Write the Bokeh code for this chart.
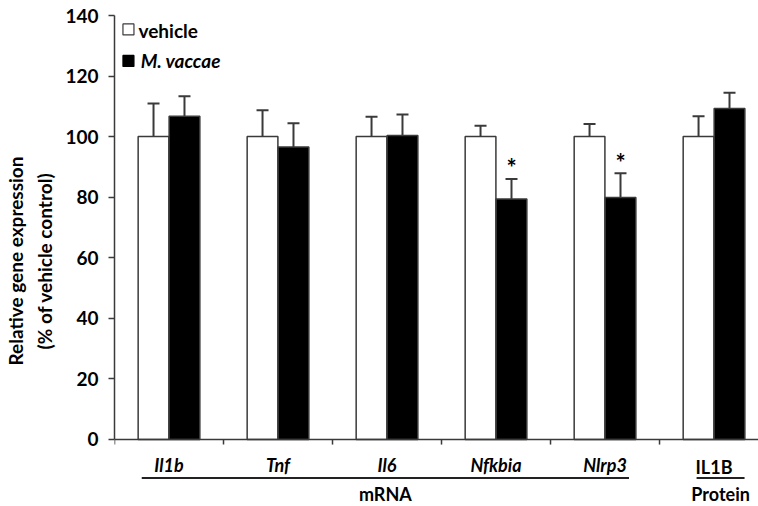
from bokeh.plotting import figure
from bokeh.models import Range1d, FixedTicker, ColumnDataSource
from bokeh.core.properties import value
from bokeh.embed import file_html
from bokeh.resources import INLINE

# ---------------- data ----------------
categories = ["Il1b", "Tnf", "Il6", "Nfkbia", "Nlrp3", "IL1B"]
cat_italic = [True, True, True, True, True, False]
vehicle = [100, 100, 100, 100, 100, 100]
vehicle_err = [10.9, 8.7, 6.6, 3.6, 4.2, 6.7]
vaccae = [106.7, 96.6, 100.4, 79.4, 79.9, 109.3]
vaccae_err = [6.6, 7.8, 6.9, 6.6, 8.0, 5.2]
significant = [False, False, False, True, True, False]
groups = ["mRNA", "Protein"]
group_members = [[0, 1, 2, 3, 4], [5]]
series_names = ["vehicle", "M. vaccae"]
y_ticks = [0, 20, 40, 60, 80, 100, 120, 140]

# ---------------- layout ----------------
FONT = "Lato"
n = len(categories)
bar_w = 0.282
off = 0.142
cap = 0.055
edge = "#3a3a3a"

p = figure(width=758, height=506, output_backend="svg", toolbar_location=None,
           x_axis_type=None, x_range=Range1d(0, 5.908), y_range=Range1d(-22.15, 140),
           min_border_left=114, min_border_right=0, min_border_top=15, min_border_bottom=0)
p.outline_line_color = None
p.grid.visible = False
p.background_fill_color = "white"

ya = p.yaxis[0]
ya.bounds = (0, 140)
ya.ticker = FixedTicker(ticks=y_ticks)
ya.minor_tick_line_color = None
ya.major_tick_in = 0
ya.major_tick_out = 6
ya.axis_line_width = 1.5
ya.axis_line_color = edge
ya.major_tick_line_width = 1.5
ya.major_tick_line_color = edge
ya.major_label_text_font = FONT
ya.major_label_text_font_style = "bold"
ya.major_label_text_font_size = "19px"
ya.major_label_text_color = "black"
ya.major_label_standoff = 10
ya.axis_label = "Relative gene expression\n(% of vehicle control)"
ya.axis_label_text_font = FONT
ya.axis_label_text_font_style = "bold"
ya.axis_label_text_font_size = "19px"
ya.axis_label_text_color = "black"
ya.axis_label_text_line_height = 1.3
ya.axis_label_standoff = 6

centers = [i + 0.5 for i in range(n)]
xv = [c - off for c in centers]
xm = [c + off for c in centers]

src = ColumnDataSource(dict(
    xv=xv, xm=xm, veh=vehicle, vac=vaccae,
    veh_top=[v + e for v, e in zip(vehicle, vehicle_err)],
    vac_top=[v + e for v, e in zip(vaccae, vaccae_err)],
    xv0=[x - cap for x in xv], xv1=[x + cap for x in xv],
    xm0=[x - cap for x in xm], xm1=[x + cap for x in xm],
))

# error bars (drawn first so bars cover the stems inside)
for xs, lo, hi, x0, x1 in (("xv", "veh", "veh_top", "xv0", "xv1"), ("xm", "vac", "vac_top", "xm0", "xm1")):
    p.segment(x0=xs, y0=lo, x1=xs, y1=hi, source=src, line_color=edge, line_width=2)
    p.segment(x0=x0, y0=hi, x1=x1, y1=hi, source=src, line_color=edge, line_width=2)

p.vbar(x="xv", top="veh", bottom=0, width=bar_w, source=src,
       fill_color="white", line_color=edge, line_width=1.5)
p.vbar(x="xm", top="vac", bottom=0, width=bar_w, source=src,
       fill_color="black", line_color=edge, line_width=1.5)

# significance stars
sx = [x for x, s in zip(xm, significant) if s]
sy = [v + e + 3.7 for v, e, s in zip(vaccae, vaccae_err, significant) if s]
p.text(x=sx, y=sy, text=["*"] * len(sx), text_font=value(FONT), text_font_style="bold",
       text_font_size="24px", text_align="center", text_baseline="middle", text_color="black")

# x axis line and boundary ticks
p.segment(x0=[0], y0=[0], x1=[5.908], y1=[0], line_color=edge, line_width=1.5)
bounds = list(range(n))
p.segment(x0=bounds, y0=[0] * n, x1=bounds, y1=[-1.7] * n, line_color=edge, line_width=1.5)

# category labels
for c, lab, it in zip(centers, categories, cat_italic):
    yb = -8.4 if it else -9.1
    p.text(x=[c], y=[yb], text=[lab], text_font=value(FONT),
           text_font_style="bold italic" if it else "bold",
           text_font_size="18px", text_align="center", text_baseline="middle", text_color="black")

# group underlines and labels
group_pad = [(0.25, 0.22), (0.16, 0.28)]
for g, members, (pl, pr) in zip(groups, group_members, group_pad):
    x0 = centers[members[0]] - pl
    x1 = centers[members[-1]] + pr
    p.segment(x0=[x0], y0=[-12.7], x1=[x1], y1=[-12.7], line_color="#222222", line_width=2)
    p.text(x=[(x0 + x1) / 2], y=[-18.1], text=[g], text_font=value(FONT), text_font_style="bold",
           text_font_size="18px", text_align="center", text_baseline="middle", text_color="black")

# legend
lx = 0.128
p.scatter(x=[lx], y=[135.4], marker="square", size=11, fill_color="white", line_color=edge, line_width=1.2)
p.scatter(x=[lx], y=[125.0], marker="square", size=11, fill_color="black", line_color="black", line_width=1.2)
p.text(x=[0.22], y=[135.0], text=[series_names[0]], text_font=value(FONT), text_font_style="bold",
       text_font_size="19px", text_align="left", text_baseline="middle", text_color="black")
p.text(x=[0.24], y=[125.0], text=[series_names[1]], text_font=value(FONT), text_font_style="bold italic",
       text_font_size="19px", text_align="left", text_baseline="middle", text_color="black")

open("out.html", "w").write(file_html(p, INLINE))
